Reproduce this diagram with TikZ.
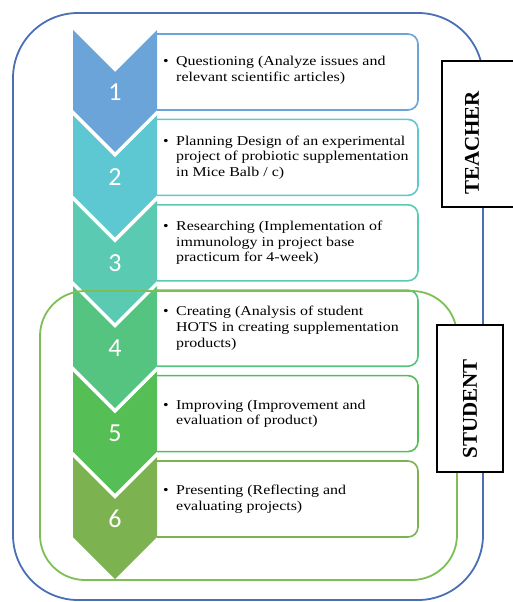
\documentclass[tikz,border=0pt]{standalone}
\usepackage{fontspec}
\setmainfont{Liberation Serif}
\newfontfamily\numfont{Carlito}
\newfontfamily\stepfont[FakeStretch=1.18]{Liberation Serif}
\definecolor{cA}{HTML}{6AA4D9}
\definecolor{cB}{HTML}{5EC8D2}
\definecolor{cC}{HTML}{5ACBB2}
\definecolor{cD}{HTML}{55C481}
\definecolor{cE}{HTML}{55BF55}
\definecolor{cF}{HTML}{7CB350}
\definecolor{outerblue}{HTML}{4A6FB5}
\definecolor{innergreen}{HTML}{7DBF55}
\tikzset{
  stepbox/.style={line width=1.6pt, rounded corners=10pt, fill=white},
  numlabel/.style={text=white, font=\numfont\fontsize{26}{26}\selectfont, inner sep=0pt},
  itemtext/.style={anchor=west, align=left, inner sep=0pt,
    font=\stepfont\fontsize{13.5}{15.6}\selectfont},
  rolebox/.style={line width=1.8pt, draw=black, fill=white},
  roletext/.style={rotate=90, inner sep=0pt, font=\bfseries\fontsize{21}{21}\selectfont}
}
\newcommand{\bul}{\makebox[13pt][l]{•}}
\newcommand{\ind}{\hspace*{13pt}}
\begin{document}
\begin{tikzpicture}[x=1pt,y=-1pt]
\useasboundingbox (0,0) rectangle (513,602);
% outer teacher frame
\draw[outerblue, line width=1.8pt, rounded corners=65pt] (13,13) rectangle (483,600);
% step boxes and chevrons
\foreach \i/\c in {1/cA,2/cB,3/cC,4/cD,5/cE,6/cF}{
  \pgfmathsetmacro{\t}{30+(\i-1)*85.4}
  \path[stepbox, draw=\c] (157,\t+4) -- (418,\t+4) -- (418,\t+80) -- (157,\t+80);
  \fill[\c] (73,\t) -- (115,\t+42) -- (157,\t) -- (157,\t+80) -- (115,\t+122) -- (73,\t+80) -- cycle;
  \node[numlabel] (n\i) at (115,\t+62) {\i};
}
% texts
\node[itemtext] (t1) at (163,70) {\bul Questioning (Analyze issues and\\\ind relevant scientific articles)};
\node[itemtext] (t2) at (163,157.4) {\bul Planning Design of an experimental\\\ind project of probiotic supplementation\\\ind in Mice Balb / c)};
\node[itemtext] (t3) at (163,242.8) {\bul Researching (Implementation of\\\ind immunology in project base\\\ind practicum for 4-week)};
\node[itemtext] (t4) at (163,328.2) {\bul Creating (Analysis of student\\\ind HOTS in creating supplementation\\\ind products)};
\node[itemtext] (t5) at (163,413.6) {\bul Improving (Improvement and\\\ind evaluation of product)};
\node[itemtext] (t6) at (163,499) {\bul Presenting (Reflecting and\\\ind evaluating projects)};
% student frame
\draw[innergreen, line width=1.8pt, rounded corners=45pt] (40,291) rectangle (457,580);
% role labels
\draw[rolebox] (442,61) rectangle (520,207);
\node[roletext] (teacher) at (472,143) {TEACHER};
\draw[rolebox] (437,325) rectangle (503,472);
\node[roletext] (student) at (470,409) {STUDENT};
\end{tikzpicture}
\end{document}
